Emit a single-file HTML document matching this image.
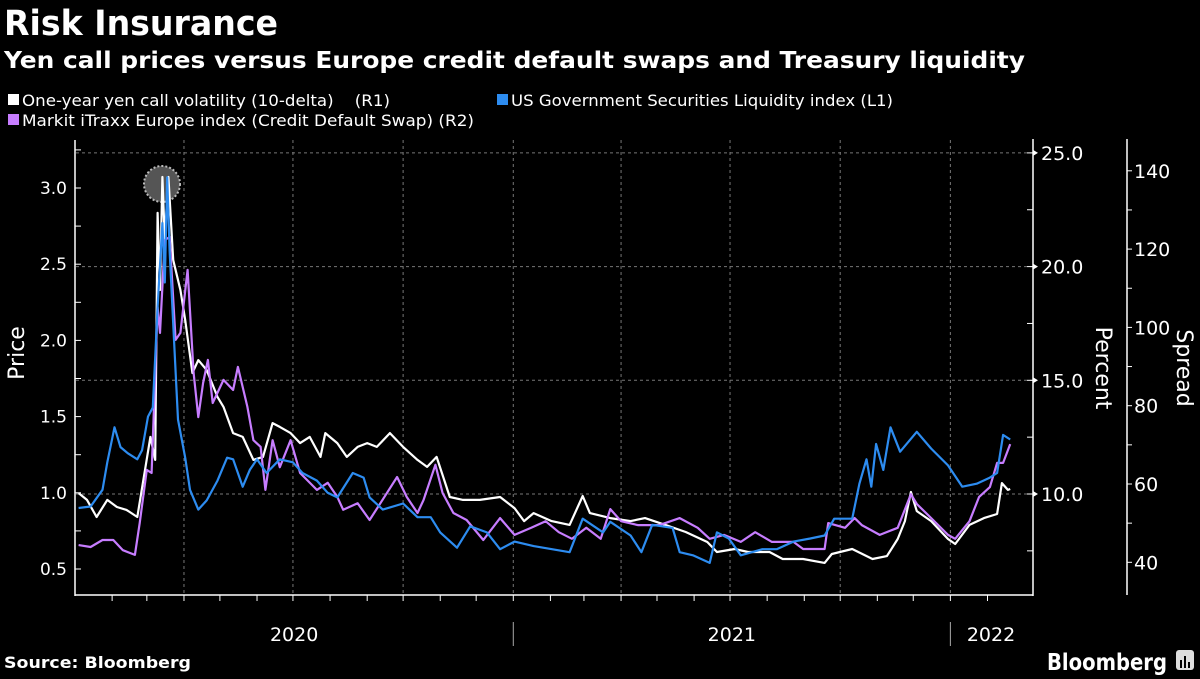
<!DOCTYPE html>
<html><head><meta charset="utf-8"><style>
html,body{margin:0;padding:0;background:#000;}
body{width:1200px;height:675px;overflow:hidden;font-family:"DejaVu Sans",sans-serif;color:#fff;}
svg text{font-family:"DejaVu Sans","Liberation Sans",sans-serif;}
</style></head><body>
<svg id="chart" width="1200" height="675" viewBox="0 0 1200 675" xmlns="http://www.w3.org/2000/svg">
<rect width="1200" height="675" fill="#000"/>
<text x="4" y="35" font-size="35" font-weight="bold" fill="#fff" textLength="274" lengthAdjust="spacingAndGlyphs">Risk Insurance</text>
<text x="4" y="68" font-size="23" font-weight="bold" fill="#fff" textLength="1021" lengthAdjust="spacingAndGlyphs">Yen call prices versus Europe credit default swaps and Treasury liquidity</text>
<g font-size="16" fill="#fff">
<g><rect x="8" y="94" width="11" height="11" fill="#fff"/><text x="22" y="106" xml:space="preserve" textLength="368" lengthAdjust="spacingAndGlyphs">One-year yen call volatility (10-delta)    (R1)</text></g>
<g><rect x="497" y="94" width="11" height="11" fill="#2d8cf0"/><text x="511" y="106" textLength="382" lengthAdjust="spacingAndGlyphs">US Government Securities Liquidity index (L1)</text></g>
<g><rect x="8" y="114" width="11" height="11" fill="#c77dff"/><text x="22" y="126" textLength="452" lengthAdjust="spacingAndGlyphs">Markit iTraxx Europe index (Credit Default Swap) (R2)</text></g>
</g>
<g id="grid"></g>
<g id="axes"></g>
<g id="marks"></g>
<text transform="translate(24,353) rotate(-90)" text-anchor="middle" font-size="22" fill="#fff">Price</text>
<text transform="translate(1096,368) rotate(90)" text-anchor="middle" font-size="22" fill="#fff">Percent</text>
<text transform="translate(1177,368) rotate(90)" text-anchor="middle" font-size="22" fill="#fff">Spread</text>
<text x="4" y="668" font-size="16" font-weight="bold" fill="#fff" textLength="187" lengthAdjust="spacingAndGlyphs">Source: Bloomberg</text>
<text x="1047" y="670" font-size="23" font-weight="bold" fill="#fff" textLength="120" lengthAdjust="spacingAndGlyphs">Bloomberg</text>
<g><rect x="1176" y="650" width="18" height="20" rx="3" fill="#ddd"/><rect x="1180" y="660" width="2" height="8" fill="#000"/><rect x="1184" y="656" width="2" height="12" fill="#000"/><rect x="1188" y="662" width="2" height="6" fill="#000"/></g>
</svg>
<script>
// ---- data (days since 2020-01-01) ----
const blueDays=[3,13,23,27,33,38,44,52,56,61,65,69,73,75,77,79,82,86,92,96,103,110,119,127,132,140,146,152,160,171,182,190,202,211,219,232,241,246,257,274,286,297,305,319,330,344,355,367,383,413,424,441,447,464,473,482,499,505,516,530,536,546,556,574,586,600,614,626,634,649,655,661,665,669,675,681,689,703,715,729,741,753,764,770,775,781];
const blueValues=[0.90,0.91,1.02,1.20,1.43,1.30,1.26,1.22,1.28,1.50,1.56,2.22,2.77,2.38,3.07,2.59,2.11,1.48,1.23,1.02,0.89,0.95,1.08,1.23,1.22,1.04,1.15,1.22,1.13,1.22,1.20,1.13,1.08,1.00,0.97,1.13,1.10,0.97,0.89,0.93,0.84,0.84,0.74,0.64,0.78,0.74,0.63,0.68,0.65,0.61,0.83,0.74,0.81,0.72,0.61,0.79,0.77,0.61,0.59,0.54,0.74,0.70,0.59,0.63,0.63,0.68,0.70,0.72,0.83,0.83,1.06,1.22,1.04,1.32,1.15,1.43,1.27,1.40,1.29,1.18,1.04,1.06,1.10,1.13,1.38,1.35];
const whiteDays=[3,10,18,27,35,43,52,58,63,67,69,71,73,75,78,82,88,92,98,103,110,119,124,132,140,149,157,165,171,180,188,196,205,209,219,227,236,244,252,263,274,286,294,302,313,324,338,355,367,375,383,398,413,424,430,447,464,476,493,510,528,536,551,562,580,591,608,626,632,649,666,678,687,693,698,703,715,729,735,747,759,770,774,779,781];
const whiteValues=[10.04,9.74,8.99,9.74,9.43,9.30,8.99,10.92,12.51,11.50,22.36,18.97,23.94,21.17,23.94,20.29,18.97,17.65,15.32,15.89,15.45,14.27,13.83,12.68,12.51,11.50,11.63,13.12,12.95,12.68,12.24,12.51,11.63,12.68,12.24,11.63,12.07,12.24,12.07,12.68,12.07,11.50,11.19,11.63,9.87,9.74,9.74,9.87,9.38,8.81,9.16,8.81,8.64,9.91,9.16,8.94,8.81,8.94,8.64,8.33,7.89,7.45,7.58,7.45,7.45,7.14,7.14,6.97,7.36,7.58,7.14,7.27,8.02,8.81,10.09,9.25,8.81,8.02,7.80,8.64,8.94,9.12,10.48,10.18,10.22];
const purpleDays=[3,13,23,32,40,50,54,60,64,69,71,75,79,84,88,94,99,103,107,111,115,124,132,136,144,149,155,159,165,171,180,188,202,211,219,224,236,246,255,269,277,286,291,301,307,316,327,341,355,367,381,393,404,415,427,439,447,456,470,488,505,520,530,542,556,568,582,600,608,626,629,643,651,657,672,687,698,703,715,729,735,747,755,764,770,775,781];
const purpleValues=[44.4,43.9,45.7,45.7,43.1,41.9,50.0,63.6,62.8,105.2,98.6,122.3,123.1,96.8,98.6,114.7,88.4,77.1,85.8,91.7,80.7,86.6,84.0,89.9,79.7,71.2,69.5,58.5,71.2,64.3,71.2,62.8,58.5,60.3,56.7,53.4,55.1,50.8,55.1,61.8,56.7,52.6,55.9,64.9,57.7,52.6,50.8,45.7,51.3,47.0,48.8,50.5,47.7,46.0,48.8,46.0,53.6,50.5,49.5,49.5,51.3,48.8,46.0,47.0,45.2,47.7,45.2,45.2,43.4,43.4,50.0,48.8,51.3,49.5,47.0,48.8,57.4,54.9,51.3,47.0,46.0,50.5,56.7,59.2,65.4,65.4,70.2];
const leftTicks=[0.5,1.0,1.5,2.0,2.5,3.0];
const r1Ticks=[10.0,15.0,20.0,25.0];
const r2Ticks=[40,60,80,100,120,140];
const yearLabels=["2020","2021","2022"];
const yearStartDays=[0,366,731];

// ---- scales ----
const X0=75, PPD=1.1975;
const xS=d=>X0+d*PPD;
const yL=v=>569-(v-0.5)*152.4;
const yR1=v=>494-(v-10)*22.74;
const yR2=v=>484-(v-60)*3.915;
const NS="http://www.w3.org/2000/svg";
function mk(tag,attrs,parent){const e=document.createElementNS(NS,tag);for(const k in attrs)e.setAttribute(k,attrs[k]);parent.appendChild(e);return e;}
const grid=document.getElementById('grid'),axes=document.getElementById('axes'),marks=document.getElementById('marks');

r1Ticks.forEach(v=>{const l=mk('line',{x1:76,x2:1033,y1:yR1(v),y2:yR1(v),stroke:'#777','stroke-width':1,'stroke-dasharray':'3,3'},grid);

});
[91,182,274,366,456,547,639,731].forEach(d=>{const l=mk('line',{x1:xS(d),x2:xS(d),y1:140,y2:595,stroke:'#777','stroke-width':1,'stroke-dasharray':'3,3'},grid);

});

// left axis
mk('line',{x1:75,x2:75,y1:140,y2:596,stroke:'#fff','stroke-width':1.5},axes);
for(let v=0.5;v<=3.26;v+=0.25){mk('line',{x1:75,x2:81,y1:yL(v),y2:yL(v),stroke:'#fff','stroke-width':1},axes);}
leftTicks.forEach(v=>{const t=mk('text',{x:67,y:yL(v)+6,'text-anchor':'end','font-size':17,fill:'#fff'},axes);t.textContent=v.toFixed(1);

});
// R1 axis
mk('line',{x1:1033,x2:1033,y1:139,y2:596,stroke:'#fff','stroke-width':1.5},axes);
for(let v=7.5;v<=25.01;v+=2.5){mk('line',{x1:1027,x2:1033,y1:yR1(v),y2:yR1(v),stroke:'#fff','stroke-width':1},axes);}
r1Ticks.forEach(v=>{mk('path',{d:`M1033 ${yR1(v)-3} L1038 ${yR1(v)} L1033 ${yR1(v)+3}Z`,fill:'#fff'},axes);const t=mk('text',{x:1041,y:yR1(v)+7,'font-size':19,fill:'#fff'},axes);t.textContent=v.toFixed(1);

});
// R2 axis
mk('line',{x1:1127,x2:1127,y1:139,y2:595,stroke:'#fff','stroke-width':1.5},axes);
for(let v=40;v<=140;v+=10){mk('line',{x1:1127,x2:1132,y1:yR2(v),y2:yR2(v),stroke:'#fff','stroke-width':1},axes);}
r2Ticks.forEach(v=>{const t=mk('text',{x:1134,y:yR2(v)+7,'font-size':19,fill:'#fff'},axes);t.textContent=String(v);

});
// x axis
mk('line',{x1:75,x2:1033,y1:595,y2:595,stroke:'#fff','stroke-width':1.5},axes);
const monthStarts=[0,31,60,91,121,152,182,213,244,274,305,335,366,397,425,456,486,517,547,578,609,639,670,700,731,762];
monthStarts.forEach(d=>{if(d>0)mk('line',{x1:xS(d),x2:xS(d),y1:595,y2:601,stroke:'#fff','stroke-width':1},axes);});
[366,731].forEach(d=>mk('line',{x1:xS(d),x2:xS(d),y1:622,y2:646,stroke:'#aaa','stroke-width':1},axes));
yearLabels.forEach((lab,i)=>{const s=yearStartDays[i];const e=i<2?yearStartDays[i+1]:762;let cx=xS((s+e)/2);if(i===2)cx=991;
const t=mk('text',{x:cx,y:641,'text-anchor':'middle','font-size':19,fill:'#fff'},axes);t.textContent=lab;

});

const hc=mk('circle',{cx:162,cy:184,r:18,fill:'#555',stroke:'#bbb','stroke-width':2,'stroke-dasharray':'2,2'},marks);



function line(days,vals,ys,color,name){
  const d=days.map((x,i)=>(i?'L':'M')+xS(x).toFixed(1)+' '+ys(vals[i]).toFixed(1)).join(' ');
  const p=mk('path',{d:d,fill:'none',stroke:color,'stroke-width':2.2,'stroke-linejoin':'round'},marks);
  
  
}
line(whiteDays,whiteValues,yR1,'#ffffff','yen-vol-line');
line(purpleDays,purpleValues,yR2,'#c77dff','itraxx-line');
line(blueDays,blueValues,yL,'#2d8cf0','liquidity-line');
</script>
</body></html>
